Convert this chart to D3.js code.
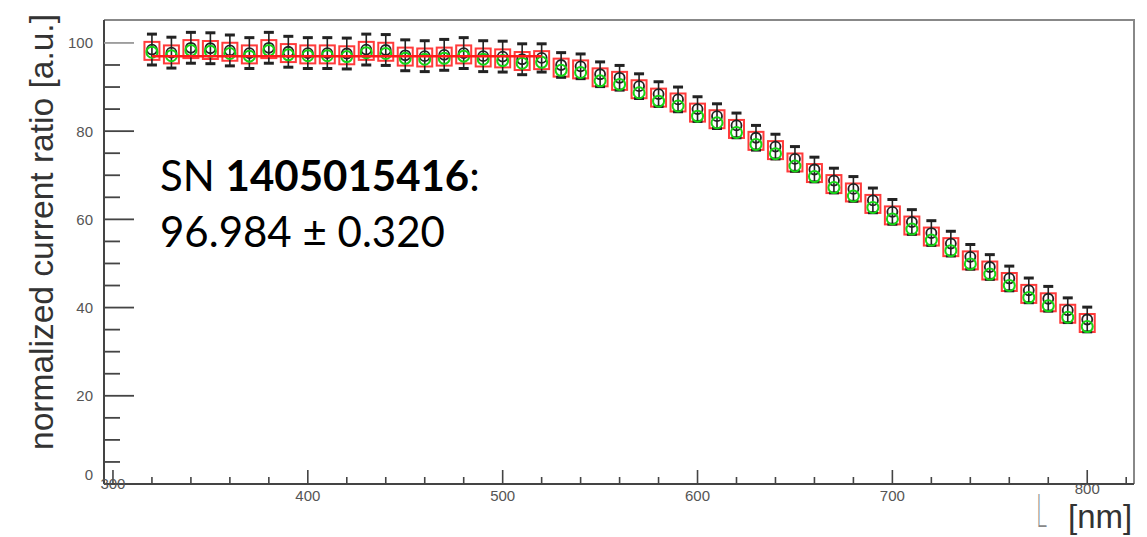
<!DOCTYPE html>
<html>
<head>
<meta charset="utf-8">
<script src="https://cdn.jsdelivr.net/npm/d3@7"></script>
<style>
  html, body { margin: 0; padding: 0; background: #fff; }
  svg { display: block; }
</style>
</head>
<body>
<svg id="chart" width="1147" height="537"></svg>
<script>
// ---- data ----
const wavelengths = [320,330,340,350,360,370,380,390,400,410,420,430,440,450,460,470,480,490,500,510,
  520,530,540,550,560,570,580,590,600,610,620,630,640,650,660,670,680,690,700,710,
  720,730,740,750,760,770,780,790,800];
const redValues = [98.2,97.4,98.6,98.4,98.0,97.4,98.6,97.7,97.4,97.4,97.2,98.2,98.0,96.9,96.7,96.9,97.4,96.7,96.5,95.9,
  96.1,94.4,94.0,92.2,91.4,89.5,87.6,86.5,84.2,82.7,80.5,77.8,75.7,72.9,70.5,68.0,66.1,63.5,60.9,58.6,
  56.1,53.7,50.7,48.4,45.8,43.1,41.2,38.6,36.5];
const greenValues = [97.9,97.1,98.3,98.1,97.6,97.0,98.3,97.3,97.1,97.1,96.9,97.8,97.6,96.5,96.3,96.5,97.0,96.3,96.0,95.4,
  95.6,93.8,93.3,91.4,90.6,88.7,86.8,85.7,83.4,81.9,79.7,77.0,74.9,72.1,69.7,67.2,65.3,62.7,60.1,57.8,
  55.3,52.9,49.9,47.6,45.0,42.3,40.4,37.8,35.7];
const blackValues = [98.5,97.8,98.9,98.8,98.3,97.7,98.9,98.0,97.7,97.7,97.6,98.5,98.4,97.2,97.0,97.3,97.7,97.0,96.9,96.3,
  96.6,95.0,94.7,92.9,92.1,90.2,88.4,87.2,85.0,83.4,81.3,78.5,76.5,73.7,71.3,68.8,66.9,64.3,61.7,59.4,
  56.9,54.5,51.5,49.2,46.6,43.9,42.0,39.4,37.3];
const blackErrors = [3.5,3.5,3.5,3.5,3.5,3.5,3.5,3.5,3.5,3.5,3.5,3.5,3.5,3.5,3.5,3.5,3.5,3.5,3.5,3.5,
  3.2,2.8,2.8,2.8,2.8,2.8,2.8,2.8,2.8,2.8,2.8,2.8,2.8,2.8,2.8,2.8,2.8,2.8,2.8,2.8,
  2.8,2.8,2.8,2.8,2.8,2.8,2.8,2.8,2.8];
const fitValue = 96.984;
const fitError = 0.320;
const fitRange = [320, 520];
const serialNumber = "1405015416";
const xTickValues = [300,400,500,600,700,800];
const yTickValues = [0,20,40,60,80,100];
const xDomain = [295.4, 824];
const yDomain = [0, 105.2];

// ---- layout ----
const svg = d3.select("#chart");
const mLeft = 104, mRight = 1134, mTop = 20, mBottom = 484;
const x = d3.scaleLinear().domain(xDomain).range([mLeft, mRight]);
const y = d3.scaleLinear().domain(yDomain).range([mBottom, mTop]);

// frame (top/right)
svg.append("path")
  .attr("d", `M${mLeft},${mTop}H${mRight}V${mBottom}`)
  .attr("fill", "none").attr("stroke", "#888").attr("stroke-width", 2);

// ---- y axis ----
const yMinor = d3.range(0, 105, 5).filter(v => v % 20 !== 0);
const yAx = svg.append("g").attr("transform", `translate(${mLeft},0)`);
yAx.append("line").attr("x1",0).attr("x2",0).attr("y1",mTop).attr("y2",mBottom)
  .attr("stroke","#444").attr("stroke-width",2);
yAx.selectAll(".ymaj").data(yTickValues).join("line")
  .attr("x1",0).attr("x2",30).attr("y1",d=>y(d)).attr("y2",d=>y(d))
  .attr("stroke", d => d === 100 ? "#999" : "#444").attr("stroke-width",1.8);
yAx.selectAll(".ymin").data(yMinor).join("line")
  .attr("x1",0).attr("x2",16).attr("y1",d=>y(d)).attr("y2",d=>y(d))
  .attr("stroke","#444").attr("stroke-width",1.8);
yAx.selectAll(".ylab").data(yTickValues).join("text")
  .attr("x",-11).attr("y",d=> d === 0 ? y(d)-9 : y(d))
  .attr("dy","0.36em").attr("text-anchor","end")
  .attr("font-family","Liberation Sans, Arial, sans-serif").attr("font-size",15)
  .attr("fill","#555").text(d=>d);

// ---- x axis ----
const xMinor = d3.range(300, 825, 20).filter(v => v % 100 !== 0);
const xAx = svg.append("g").attr("transform", `translate(0,${mBottom})`);
xAx.append("line").attr("x1",mLeft).attr("x2",mRight).attr("y1",0).attr("y2",0)
  .attr("stroke","#444").attr("stroke-width",2);
xAx.selectAll(".xmaj").data(xTickValues).join("line")
  .attr("x1",d=>x(d)).attr("x2",d=>x(d)).attr("y1",0).attr("y2",-14)
  .attr("stroke","#444").attr("stroke-width",1.6);
xAx.selectAll(".xmin").data(xMinor).join("line")
  .attr("x1",d=>x(d)).attr("x2",d=>x(d)).attr("y1",0).attr("y2",-7)
  .attr("stroke","#444").attr("stroke-width",1.6);
xAx.selectAll(".xlab").data(xTickValues).join("text")
  .attr("x",d=>x(d))
  .attr("y",d=> d === 300 ? 0 : (d === 800 ? 5 : 12))
  .attr("dy","0.36em").attr("text-anchor","middle")
  .attr("font-family","Liberation Sans, Arial, sans-serif").attr("font-size",15)
  .attr("fill","#555").text(d=>d);

// ---- axis titles ----
svg.append("text")
  .attr("transform","translate(53,232) rotate(-90)")
  .attr("text-anchor","middle")
  .attr("font-family","Liberation Sans, Arial, sans-serif").attr("font-size",34)
  .attr("textLength",436).attr("lengthAdjust","spacingAndGlyphs")
  .attr("fill","#333").text("normalized current ratio [a.u.]");
svg.append("text")
  .attr("transform","translate(1036,527) scale(0.5,1.12)")
  .attr("font-family","DejaVu Sans, sans-serif").attr("font-size",40)
  .attr("font-weight",200)
  .attr("fill","#888").text("L");
svg.append("text")
  .attr("x",1068).attr("y",528)
  .attr("font-family","Liberation Sans, Arial, sans-serif").attr("font-size",33)
  .attr("fill","#333").text("[nm]");

// ---- data marks ----
const pts = wavelengths.map((w,i)=>({w, r: redValues[i], g: greenValues[i], b: blackValues[i], e: blackErrors[i]}));
const plot = svg.append("g");

// red squares
plot.selectAll(".rsq").data(pts).join("rect")
  .attr("x", d=>x(d.w)-7.5).attr("y", d=>y(d.r)-9)
  .attr("width",15).attr("height",18)
  .attr("fill","none").attr("stroke","#ff3b3b").attr("stroke-width",2);

// black error bars
const eb = plot.selectAll(".eb").data(pts).join("g");
eb.append("line")
  .attr("x1",d=>x(d.w)).attr("x2",d=>x(d.w))
  .attr("y1",d=>y(d.b+d.e)).attr("y2",d=>y(d.b-d.e))
  .attr("stroke","#222").attr("stroke-width",1.6);
eb.append("line")
  .attr("x1",d=>x(d.w)-5).attr("x2",d=>x(d.w)+5)
  .attr("y1",d=>y(d.b+d.e)).attr("y2",d=>y(d.b+d.e))
  .attr("stroke","#222").attr("stroke-width",3);
eb.append("line")
  .attr("x1",d=>x(d.w)-5).attr("x2",d=>x(d.w)+5)
  .attr("y1",d=>y(d.b-d.e)).attr("y2",d=>y(d.b-d.e))
  .attr("stroke","#222").attr("stroke-width",3);
eb.append("circle")
  .attr("cx",d=>x(d.w)).attr("cy",d=>y(d.b))
  .attr("r",5).attr("fill","none").attr("stroke","#222").attr("stroke-width",1.8);

// green circles
plot.selectAll(".gc").data(pts).join("circle")
  .attr("cx",d=>x(d.w)).attr("cy",d=>y(d.g))
  .attr("r",5.5).attr("fill","none").attr("stroke","#16d416").attr("stroke-width",2);

// fit line
plot.append("line")
  .attr("x1",x(fitRange[0])).attr("x2",x(fitRange[1]))
  .attr("y1",y(fitValue)).attr("y2",y(fitValue))
  .attr("stroke","#ff1a1a").attr("stroke-width",2.5);

// ---- annotation ----
const ann = svg.append("text")
  .attr("font-family","Lato, 'Open Sans', sans-serif").attr("font-size",42).attr("fill","#000");
ann.append("tspan").attr("x",160).attr("y",191).text("SN ");
ann.append("tspan").attr("font-weight","bold").text(serialNumber);
ann.append("tspan").text(":");
ann.append("tspan").attr("x",160).attr("y",247).text(`${fitValue.toFixed(3)} ± ${fitError.toFixed(3)}`);
</script>
</body>
</html>
